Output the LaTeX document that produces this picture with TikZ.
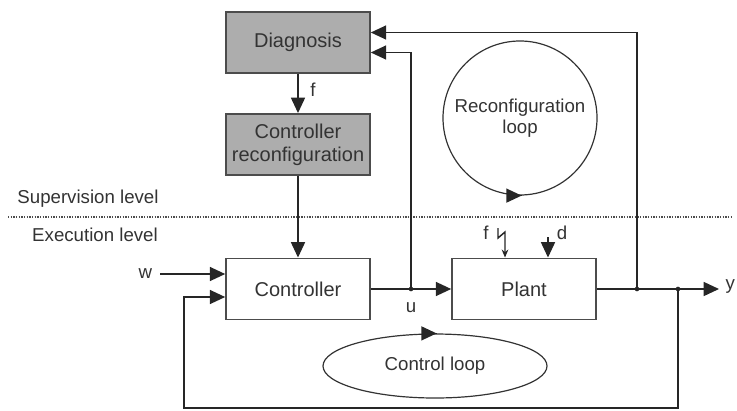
\documentclass[tikz,border=0pt]{standalone}
\usepackage{fontspec}
\setmainfont{Liberation Sans}
\usetikzlibrary{arrows.meta, shapes.geometric, positioning}

\begin{document}
\begin{tikzpicture}[
    x=0.75pt, y=-0.75pt,
    block/.style={rectangle, draw=black!70, line width=1.2pt, minimum width=108pt, minimum height=46pt, align=center, font=\fontsize{15}{17}\selectfont, text=black!80},
    shblock/.style={block, fill=black!32},
    loopshape/.style={draw=black!80, line width=0.9pt, align=center, inner sep=0pt, font=\fontsize{14}{16}\selectfont, text=black!80},
    lbl/.style={font=\fontsize{14}{16}\selectfont, text=black!80},
    arrow/.style={-{Triangle[length=11.5pt,width=10.5pt]}, line width=1.1pt, draw=black!85},
    conn/.style={line width=1.1pt, draw=black!85},
    jdot/.style={circle, fill=black!85, inner sep=0pt, minimum size=3.5pt}
]
\useasboundingbox (0,0) rectangle (737,410);
% supervision level
\node (diag) [shblock] at (298,42.5) {Diagnosis};
\node (reconf) [shblock] at (298,144.5) {Controller\\reconfiguration};
\node (rloop) [loopshape, circle, minimum size=115.5pt] at (520,118) {Reconfiguration\\loop};
% execution level
\node (ctrl) [block] at (298,289) {Controller};
\node (plant) [block] at (524,289) {Plant};
\node (cloop) [loopshape, ellipse, minimum width=168pt, minimum height=48pt] at (435,366) {Control loop};
% level separator
\draw [black!70, line width=1pt, densely dotted] (8,217) -- (731,217);
\node [lbl] at (88,199) {Supervision level};
\node [lbl] at (95,235) {Execution level};
% junctions and ends
\coordinate (u) at (411,289);
\coordinate (j1) at (637,289);
\coordinate (j2) at (678,289);
\coordinate (yout) at (719,289);
\coordinate (fbl) at (184,408);
\coordinate (win) at (160,274);
\coordinate (fin) at (498,228);
\coordinate (din) at (548,237);
\node (wlbl) [lbl, anchor=east] at (win) {w\,};
\node (ylbl) [lbl, anchor=west, inner sep=1pt] at (724,287) {y};
\node (ulbl) [lbl] at (411,308) {u};
\node (flbl) [lbl] at (486,233) {f};
\node (dlbl) [lbl] at (562,233) {d};
\node (dflbl) [lbl] at (313,90) {f};
% connectors
\draw [arrow] (diag) -- (reconf);
\draw [arrow] (reconf) -- (ctrl);
\draw [conn] (ctrl.east) -- (u);
\draw [arrow] (u) -- (plant.west);
\draw [arrow] (u) |- ([yshift=-7.5pt]diag.east);
\draw [conn] (plant.east) -- (j1);
\draw [arrow] (j1) -- (yout);
\draw [arrow] (j1) |- ([yshift=7.5pt]diag.east);
\draw [arrow] (j2) |- (fbl) |- ([yshift=-6pt]ctrl.west);
\draw [arrow] (win) -- ([yshift=11.25pt]ctrl.west);
\draw [arrow] (din) -- (din |- plant.north);
\draw [conn, -{Stealth[length=6pt,width=5pt]}] (fin) -- ++(0,10) -- ++(7,-6) -- (505,0 |- plant.north);
\foreach \p in {u,j1,j2} \node [jdot] at (\p) {};
% loop direction marks
\draw [arrow] (rloop.south) ++(1.5,0) -- ++(0.1pt,0);
\draw [arrow] (cloop.north) ++(1.5,0) -- ++(0.1pt,0);
\end{tikzpicture}
\end{document}
